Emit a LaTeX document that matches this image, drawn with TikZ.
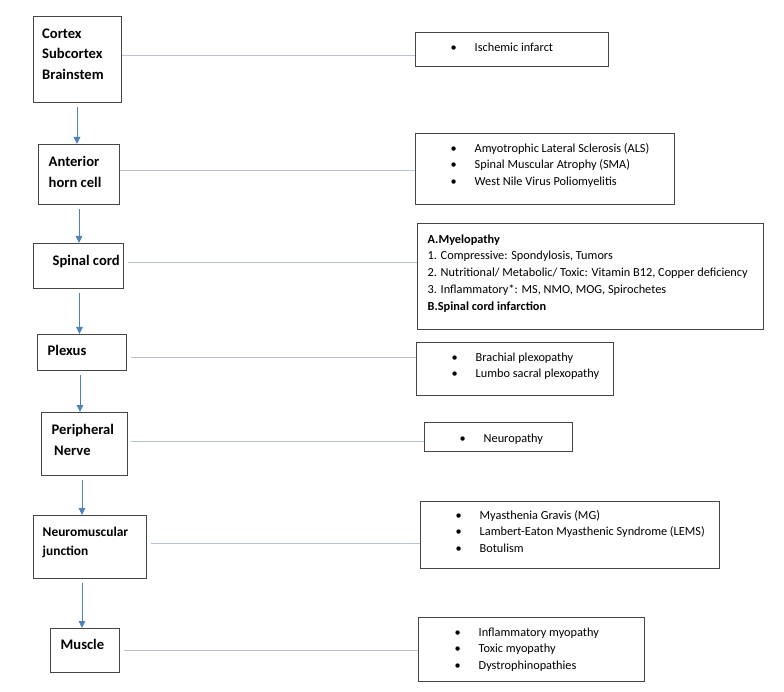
\documentclass[tikz,border=0pt]{standalone}
\usepackage{fontspec}
\setmainfont{Carlito}
\usetikzlibrary{arrows.meta,calc}
\definecolor{boxline}{RGB}{70,70,70}
\definecolor{connline}{RGB}{180,197,218}
\definecolor{arrblue}{RGB}{79,129,189}
\tikzset{
  lbox/.style={draw=boxline, line width=1.3pt, anchor=north west, inner sep=0pt},
  rbox/.style={draw=boxline, line width=1.1pt, anchor=north west, inner sep=0pt},
  ltext/.style={anchor=north west, inner sep=0pt, align=left, font=\bfseries\fontsize{14.6}{20.5}\selectfont},
  rtext/.style={anchor=north west, inner sep=0pt, align=left, font=\fontsize{12.3}{16.7}\selectfont},
  conn/.style={draw=connline, line width=0.9pt},
  arr/.style={draw=arrblue, line width=0.9pt, -{Triangle[length=7pt,width=6.5pt]}, shorten <=4pt}
}
\newcommand{\bul}{\makebox[24pt][l]{\textbullet}}
\begin{document}
\begin{tikzpicture}[x=1pt,y=-1pt]
\useasboundingbox (0,0) rectangle (784,692);
% left boxes
\node[lbox, minimum width=88pt, minimum height=86pt] (b1) at (33,16) {};
\node[lbox, minimum width=81pt, minimum height=60pt] (b2) at (38,144) {};
\node[lbox, minimum width=90pt, minimum height=45pt] (b3) at (33,243) {};
\node[lbox, minimum width=89pt, minimum height=36pt] (b4) at (37,334) {};
\node[lbox, minimum width=86pt, minimum height=63pt] (b5) at (41,412) {};
\node[lbox, minimum width=113pt, minimum height=63pt] (b6) at (33,515) {};
\node[lbox, minimum width=69pt, minimum height=44pt] (b7) at (50,628) {};
% left texts
\node[ltext] (t1) at (42,23.6) {\strut Cortex\\ \strut Subcortex\\ \strut Brainstem};
\node[ltext] (t2) at (48.5,152.3) {\strut Anterior\\ \strut horn cell};
\node[ltext] (t3) at (52.5,251) {\strut Spinal cord};
\node[ltext] (t4) at (47.5,341) {\strut Plexus};
\node[ltext] (t5) at (51.5,420) {\strut Peripheral\\ \strut\hspace{2.5pt}Nerve};
\node[ltext, font=\bfseries\fontsize{13.4}{18.5}\selectfont] (t6) at (42.5,523.5) {\strut Neuromuscular\\ \strut junction};
\node[ltext] (t7) at (60.5,635) {\strut Muscle};
% right boxes
\node[rbox, minimum width=193pt, minimum height=34pt] (r1) at (415,32) {};
\node[rbox, minimum width=259pt, minimum height=71pt] (r2) at (415,133) {};
\node[rbox, minimum width=346pt, minimum height=106pt] (r3) at (417,223) {};
\node[rbox, minimum width=197pt, minimum height=53pt] (r4) at (416,342) {};
\node[rbox, minimum width=148pt, minimum height=29pt] (r5) at (424,422) {};
\node[rbox, minimum width=299pt, minimum height=67pt] (r6) at (420,501) {};
\node[rbox, minimum width=226pt, minimum height=64pt] (r7) at (418,617) {};
% right texts
\node[rtext] (s1) at (450.5,39.6) {\strut\bul Ischemic infarct};
\node[rtext] (s2) at (450.5,140.4) {\strut\bul Amyotrophic Lateral Sclerosis (ALS)\\ \strut\bul Spinal Muscular Atrophy (SMA)\\ \strut\bul West Nile Virus Poliomyelitis};
\node[rtext] (s3) at (427.5,231.4) {\strut\textbf{A.Myelopathy}\\ \strut 1. Compressive: Spondylosis, Tumors\\ \strut 2. Nutritional/ Metabolic/ Toxic: Vitamin B12, Copper deficiency\\ \strut 3. Inflammatory*: MS, NMO, MOG, Spirochetes\\ \strut\textbf{B.Spinal cord infarction}};
\node[rtext] (s4) at (451.5,349.4) {\strut\bul Brachial plexopathy\\ \strut\bul Lumbo sacral plexopathy};
\node[rtext] (s5) at (459.5,430.4) {\strut\bul Neuropathy};
\node[rtext] (s6) at (455.5,507.4) {\strut\bul Myasthenia Gravis (MG)\\ \strut\bul Lambert-Eaton Myasthenic Syndrome (LEMS)\\ \strut\bul Botulism};
\node[rtext] (s7) at (454.5,624.4) {\strut\bul Inflammatory myopathy\\ \strut\bul Toxic myopathy\\ \strut\bul Dystrophinopathies};
% connectors
\draw[conn] (b1.east |- 0,55) -- (r1.west |- 0,55);
\draw[conn] (b2.east |- 0,170) -- (r2.west |- 0,170);
\draw[conn] ([xshift=4pt]b3.east |- 0,262) -- (r3.west |- 0,262);
\draw[conn] ([xshift=4pt]b4.east |- 0,357) -- (r4.west |- 0,357);
\draw[conn] ([xshift=3pt]b5.east |- 0,441) -- (r5.west |- 0,441);
\draw[conn] ([xshift=4pt]b6.east |- 0,543) -- (r6.west |- 0,543);
\draw[conn] ([xshift=4pt]b7.east |- 0,650) -- (r7.west |- 0,650);
% arrows
\draw[arr] (b1.south -| 77,0) -- (b2.north -| 77,0);
\draw[arr] (b2.south -| 79,0) -- (b3.north -| 79,0);
\draw[arr] (b3.south -| 79.5,0) -- (b4.north -| 79.5,0);
\draw[arr] (b4.south -| 80,0) -- (b5.north -| 80,0);
\draw[arr] (b5.south -| 82,0) -- (b6.north -| 82,0);
\draw[arr] (b6.south -| 82,0) -- (b7.north -| 82,0);
\end{tikzpicture}
\end{document}
